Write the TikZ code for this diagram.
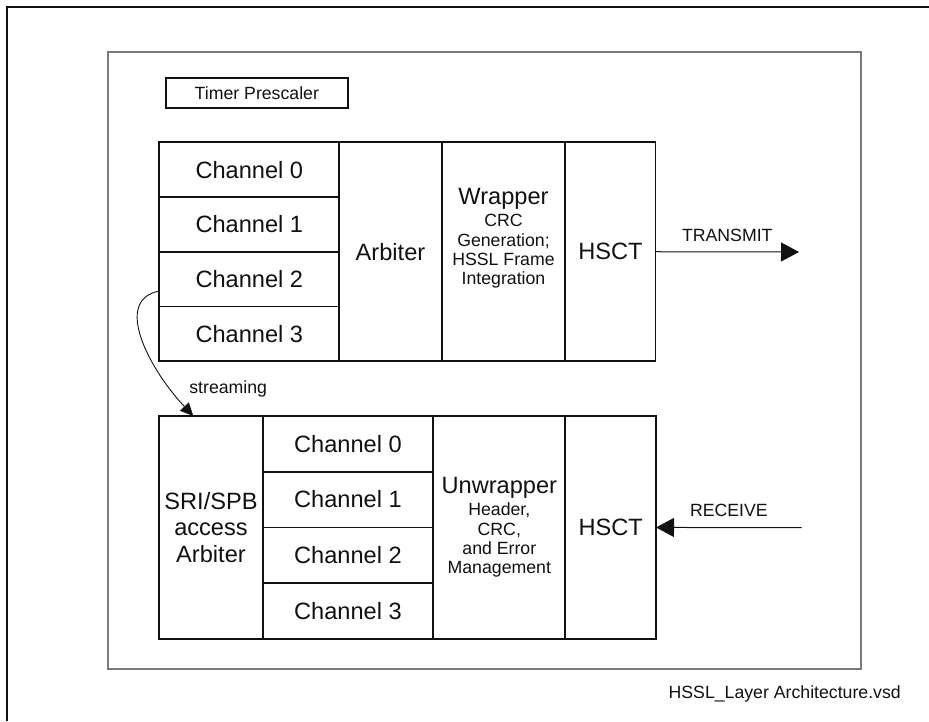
\documentclass[tikz,border=0pt]{standalone}
\usepackage{fontspec}
\setmainfont{Liberation Sans}
\usepackage{tikz}
\usetikzlibrary{arrows.meta, positioning, calc}
\definecolor{framegray}{HTML}{7A7A7A}
\definecolor{inkblack}{HTML}{111111}
\newcommand{\bigtxt}{\fontsize{23.6}{26.3}\selectfont}
\newcommand{\smalltxt}{\fontsize{17.7}{19.8}\selectfont}
\tikzstyle{cell} = [rectangle, draw=inkblack, line width=1.8pt, inner sep=0pt, outer sep=0pt, align=center, text=inkblack, font=\bigtxt]
\tikzstyle{uchan} = [cell, minimum width=180pt, minimum height=54.7pt]
\tikzstyle{lchan} = [cell, minimum width=170.6pt, minimum height=55.7pt]
\tikzstyle{ucol} = [cell, minimum height=218.7pt]
\tikzstyle{lcol} = [cell, minimum height=222.7pt]
\tikzstyle{tag} = [inner sep=2pt, text=inkblack, font=\smalltxt]
\tikzstyle{arrow} = [line width=1pt, draw=inkblack, -{Triangle[length=18pt, width=19pt]}]

\begin{document}
\begin{tikzpicture}[x=1pt, y=-1pt]
    \useasboundingbox (0,0) rectangle (929,721);
    \draw[line width=1.4pt, inkblack] (929,7) -- (7,7) -- (7,721);
    \draw[line width=1.3pt, framegray] (108,52) rectangle (861,669);

    \node[cell, line width=1.6pt, font=\smalltxt, minimum width=182.3pt, minimum height=30pt, anchor=north west] (prescaler) at (165.7,78) {Timer Prescaler};

    \node[uchan, anchor=north west] (uch0) at (159.3,142.3) {Channel 0};
    \node[uchan, below=0pt of uch0] (uch1) {Channel 1};
    \node[uchan, below=0pt of uch1] (uch2) {Channel 2};
    \node[uchan, below=0pt of uch2] (uch3) {Channel 3};
    \node[ucol, minimum width=102.4pt, anchor=north west] (uarb) at (uch0.north east) {Arbiter};
    \node[ucol, minimum width=123.6pt, right=0pt of uarb] (uwrap) {Wrapper\\[-4pt]\smalltxt CRC\\[-7pt]\smalltxt Generation;\\[-7pt]\smalltxt HSSL Frame\\[-7pt]\smalltxt Integration\\[4pt]};
    \node[ucol, minimum width=90.2pt, right=0pt of uwrap] (uhsct) {HSCT};

    \node[lcol, minimum width=103.4pt, anchor=north west] (lsri) at (159.3,416) {SRI/SPB\\access\\Arbiter};
    \node[lchan, anchor=north west] (lch0) at (lsri.north east) {Channel 0};
    \node[lchan, below=0pt of lch0] (lch1) {Channel 1};
    \node[lchan, below=0pt of lch1] (lch2) {Channel 2};
    \node[lchan, below=0pt of lch2] (lch3) {Channel 3};
    \node[lcol, minimum width=132pt, anchor=north west] (lunwrap) at (lch0.north east) {Unwrapper\\[-4pt]\smalltxt Header,\\[-7pt]\smalltxt CRC,\\[-7pt]\smalltxt and Error\\[-7pt]\smalltxt Management};
    \node[lcol, minimum width=90.7pt, right=0pt of lunwrap] (lhsct) {HSCT};

    \coordinate (txout) at (799,252);
    \coordinate (rxin) at (801.7,527.7);
    \coordinate (streamin) at ($(lsri.north west)+(34,0)$);

    \draw[arrow] (uhsct) -- node[tag, above=8pt] {TRANSMIT} (txout);
    \draw[arrow] (rxin) -- node[tag, above=8pt] {RECEIVE} (lhsct);
    \draw[line width=0.9pt, inkblack, -{Triangle[length=13pt, width=12pt]}] ($(uch2.west)+(0,12)$) .. controls (112,300) and (150,370) .. node[tag, pos=0.82, right=16pt] {streaming} (streamin);

    \node[tag, font=\smalltxt] (vsdname) at (784.7,694) {HSSL\_Layer Architecture.vsd};
\end{tikzpicture}
\end{document}
